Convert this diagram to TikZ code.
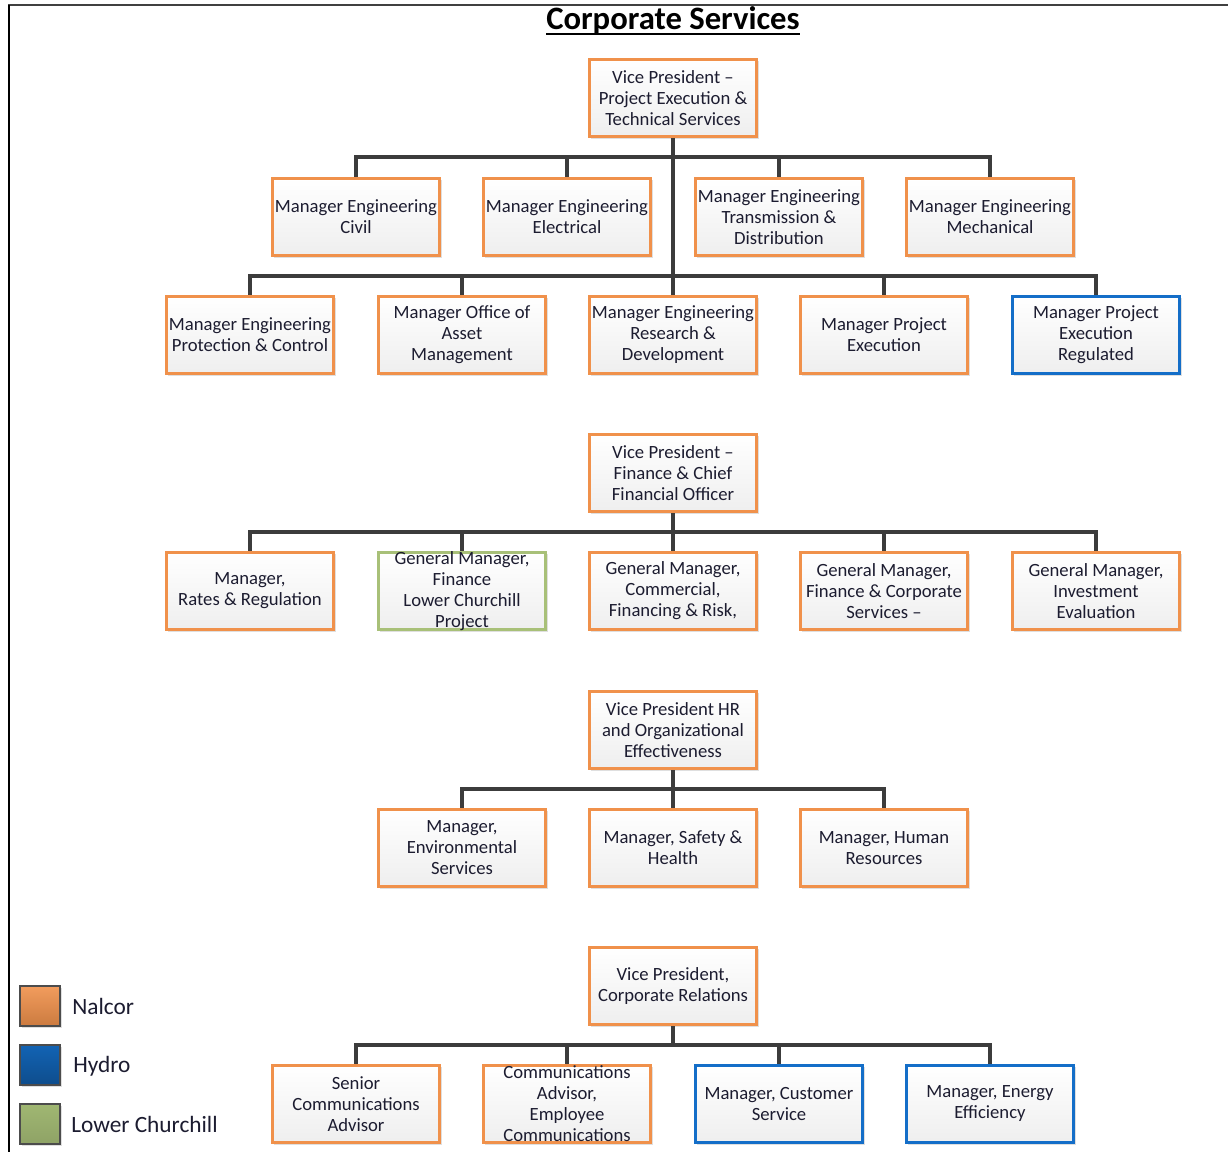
\documentclass[tikz,border=0pt]{standalone}
\usepackage{fontspec}
\setmainfont{Carlito}
\usetikzlibrary{shadows}

\definecolor{nalcor}{RGB}{240,145,75}
\definecolor{hydro}{RGB}{20,110,200}
\definecolor{lcp}{RGB}{168,192,120}
\definecolor{inkc}{RGB}{28,28,48}
\definecolor{wire}{RGB}{60,60,60}

\tikzset{
  orgbox/.style={draw=#1, line width=2pt, top color=white, bottom color=gray!13,
    minimum width=125.5pt, minimum height=58pt, inner sep=1pt, align=center,
    text=inkc, font=\fontsize{14}{15.75}\selectfont,
    drop shadow={shadow xshift=1.6pt, shadow yshift=-1.6pt, opacity=0.25}},
  boxtext/.style={align=center, text=inkc, inner sep=0pt,
    font=\fontsize{14}{15.75}\selectfont},
  link/.style={draw=wire, line width=2.3pt},
  legsq/.style={draw=black!70, line width=1.3pt, minimum width=30pt, minimum height=29.5pt,
    inner sep=0pt, drop shadow={shadow xshift=1.5pt, shadow yshift=-1.5pt, opacity=0.25}},
  legtext/.style={anchor=west, text=inkc, inner sep=0pt, font=\fontsize{17.5}{20}\selectfont}
}

\begin{document}
\begin{tikzpicture}[x=0.75pt, y=-0.75pt]
  \useasboundingbox (0,0) rectangle (1228,1152);
  \fill[white] (0,0) rectangle (1228,1152);

  % page frame
  \draw[black!75, line width=1.6pt] (8,5) -- (1228,5);
  \draw[black, line width=1.6pt] (9,5) -- (9,1152);

  % heading
  \node[font=\fontsize{24.5}{28}\selectfont\bfseries, inner sep=0pt] (title) at (673,21)
    {Corporate Services};
  \draw[black, line width=1.6pt] (title.south west) ++(0,-1.5) coordinate (ulw)
    (ulw) -- (ulw -| title.south east);

  % bus coordinates
  \coordinate (b1) at (673,157);
  \coordinate (b2) at (673,276);
  \coordinate (b3) at (673,532);
  \coordinate (b4) at (673,789);
  \coordinate (b5) at (673,1045);

  % --- Project execution & technical services ---
  \node[orgbox=nalcor] (vp1) at (673,98) {Vice President --\\Project Execution \&\\Technical Services};
  \node[orgbox=nalcor] (civil) at (356,217) {Manager Engineering\\Civil};
  \node[orgbox=nalcor] (elec) at (567,217) {Manager Engineering\\Electrical};
  \node[orgbox=nalcor] (td) at (779,217) {Manager Engineering\\Transmission \&\\Distribution};
  \node[orgbox=nalcor] (mech) at (990,217) {Manager Engineering\\Mechanical};
  \node[orgbox=nalcor] (pc) at (250,335) {Manager Engineering\\Protection \& Control};
  \node[orgbox=nalcor] (asset) at (462,335) {Manager Office of\\Asset\\Management};
  \node[orgbox=nalcor] (rd) at (673,335) {Manager Engineering\\Research \&\\Development};
  \node[orgbox=nalcor] (pe) at (884,335) {Manager Project\\Execution};
  \node[orgbox=hydro] (per) at (1096,335) {Manager Project\\Execution\\Regulated};

  % --- Finance ---
  \node[orgbox=nalcor] (vp2) at (673,473) {Vice President --\\Finance \& Chief\\Financial Officer};
  \node[orgbox=nalcor] (rates) at (250,591) {Manager,\\Rates \& Regulation};
  \node[orgbox=lcp] (gmf) at (462,591) {};
  \node[orgbox=nalcor] (gmc) at (673,591) {General Manager,\\Commercial,\\Financing \& Risk,};
  \node[orgbox=nalcor] (gmfc) at (884,591) {General Manager,\\Finance \& Corporate\\Services --};
  \node[orgbox=nalcor] (gmi) at (1096,591) {General Manager,\\Investment\\Evaluation};

  % --- HR ---
  \node[orgbox=nalcor] (vp3) at (673,730) {Vice President HR\\and Organizational\\Effectiveness};
  \node[orgbox=nalcor] (env) at (462,848) {Manager,\\Environmental\\Services};
  \node[orgbox=nalcor] (safety) at (673,848) {Manager, Safety \&\\Health};
  \node[orgbox=nalcor] (hr) at (884,848) {Manager, Human\\Resources};

  % --- Corporate relations ---
  \node[orgbox=nalcor] (vp4) at (673,986) {Vice President,\\Corporate Relations};
  \node[orgbox=nalcor] (sca) at (356,1104) {Senior\\Communications\\Advisor};
  \node[orgbox=nalcor] (cae) at (567,1104) {};
  \node[orgbox=hydro] (cs) at (779,1104) {Manager, Customer\\Service};
  \node[orgbox=hydro] (ee) at (990,1104) {Manager, Energy\\Efficiency};

  % connectors
  \draw[link] (vp1.south) -- (b1) -| (civil.north);
  \draw[link] (b1) -| (elec.north);
  \draw[link] (b1) -| (td.north);
  \draw[link] (b1) -| (mech.north);
  \draw[link] (b1) -- (b2) -| (pc.north);
  \draw[link] (b2) -| (asset.north);
  \draw[link] (b2) -- (rd.north);
  \draw[link] (b2) -| (pe.north);
  \draw[link] (b2) -| (per.north);

  \draw[link] (vp2.south) -- (b3) -| (rates.north);
  \draw[link] (b3) -| (gmf.north);
  \draw[link] (b3) -- (gmc.north);
  \draw[link] (b3) -| (gmfc.north);
  \draw[link] (b3) -| (gmi.north);

  \draw[link] (vp3.south) -- (b4) -| (env.north);
  \draw[link] (b4) -- (safety.north);
  \draw[link] (b4) -| (hr.north);

  \draw[link] (vp4.south) -- (b5) -| (sca.north);
  \draw[link] (b5) -| (cae.north);
  \draw[link] (b5) -| (cs.north);
  \draw[link] (b5) -| (ee.north);

  % texts that run past their boxes
  \node[boxtext] (gmftext) at (gmf) {General Manager,\\Finance\\Lower Churchill\\Project};
  \node[boxtext] (caetext) at (cae) {Communications\\Advisor,\\Employee\\Communications};

  % legend
  \node[legsq, top color=nalcor!90!white, bottom color=nalcor!85!black] (lgn) at (40,1006) {};
  \node[legsq, top color=hydro!90!black, bottom color=hydro!70!black] (lgh) at (40,1065) {};
  \node[legsq, top color=lcp!95!black, bottom color=lcp!85!black] (lgl) at (40,1124) {};
  \node[legtext] (lgntext) at (72,1006) {Nalcor};
  \node[legtext] (lghtext) at (73,1066) {Hydro};
  \node[legtext] (lgltext) at (71,1124) {Lower Churchill};
\end{tikzpicture}
\end{document}
